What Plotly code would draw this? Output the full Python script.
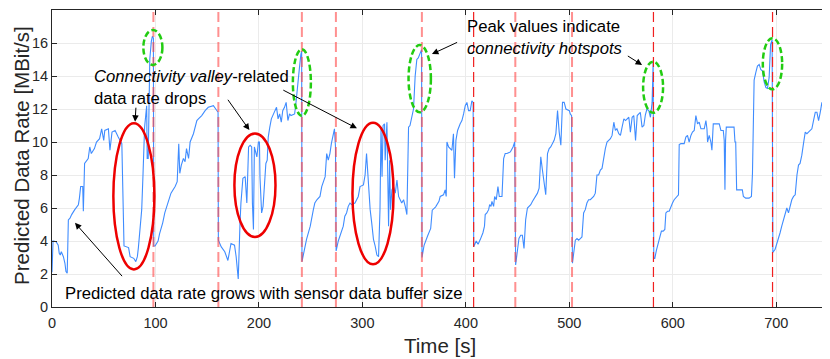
import plotly.graph_objects as go

# ---- data ----
time_s = [
    0, 1, 4, 6, 7, 8, 9, 11, 12.5, 13.5, 14.7, 15.8, 17.4, 19, 22, 24, 25.5, 26.5, 27.7, 29.7,
    30.3, 31.5, 35, 36.5, 38, 41, 43, 46, 48, 50, 51, 54.5, 56, 58, 61, 64, 67.5, 69.6, 74, 75.5,
    79, 81, 82.5, 83.5, 85, 86.7, 88, 89.5, 91.5, 92, 93, 93.5, 94.5, 96, 97, 98, 98.3,
    99.6, 101, 102.5, 104, 107, 109, 112, 115, 119, 121, 122.5, 123.5, 125, 127, 128.6, 130, 132,
    133.5, 136.7, 138, 140, 141.5, 144.7, 148, 151, 156, 159, 160.5,
    160.8, 163.6, 167, 170, 173, 176.4, 178, 180, 181.7, 182.6, 184.5, 186.7, 188.3, 190, 191.5,
    193, 193.7, 194.7, 195.6, 198, 199.5, 200.5, 201, 202.6, 204, 205.7, 206.7, 208, 209, 210.5,
    212, 215.5, 217, 218.5, 220, 221.6, 223, 224.7, 226.3, 228, 229.6, 231, 234.5, 236, 237.6,
    239, 240.5, 241.3,
    241.6, 244, 246, 249.6, 251, 252.6, 254, 256, 259, 260.7, 264, 265.5, 267, 268.6, 270, 271.8,
    273, 274,
    274.6, 276.7, 278.3, 280, 281.5, 283, 284.7, 286.3, 288, 289.6, 292.8, 296, 297.7, 301, 302.6,
    304, 305, 305.9, 307.5, 309, 310.7, 312.3, 314, 315.6, 316.5, 317, 318, 319, 320, 321.4, 322,
    323.7, 325.3, 326.3, 327.2, 328.5, 330, 331.8, 333.4, 335, 338, 339.8, 341.4, 343, 344, 344.6,
    346, 347.8, 349.4, 351, 352.6, 354, 355.7, 357.2,
    357.6, 359.6, 363, 366, 367.5, 370.8, 374, 375.2, 378.4, 380, 381, 381.7, 383.3, 386.5, 388,
    389, 390.4, 392, 394.5, 396.2, 397.8, 399.4, 401, 402.6, 404.2, 405.8, 407,
    407.6, 410, 411.8, 414, 416.5, 418, 418.7, 420.3, 422, 423, 424.3, 425.2, 426.8, 427.8, 429.4,
    431, 432.3, 434.9, 436.5, 438, 439.7, 443, 445.6, 447.2,
    448.1, 449.7, 451.3, 453, 454.6, 456.2, 457.8, 459.5, 462.7, 464.3, 467.5, 469.2, 470.8, 472.4,
    474, 475.6, 477.2, 478.9, 480.5, 482, 483.7, 485.3, 487, 488.6, 490.2, 491.8, 493.4, 495,
    496.7, 500, 500.9, 502.2,
    503, 504.2, 505.8, 507.4, 509, 510.6, 512.2, 513.8, 515.4, 517, 518.6, 520.3, 523.5, 525.1,
    526.7, 528.3, 530, 531.6, 533.2, 534.8, 536.4, 538, 539.7, 541.3, 543, 544.5, 546, 547.8,
    549.4, 551, 552.7, 554.3, 557.5, 559, 560.7, 562.3, 563.3, 564, 565.6, 568.6, 570.3, 572,
    573.5, 575, 576.8, 578.4, 580, 581,
    581.6, 582.6, 584.2, 585.8, 587.4, 589, 590.7, 592.3, 593.3, 594.9, 596.5, 598.1, 599.7, 601.3,
    602.9, 604.6, 605.5, 606.2, 607.8, 611, 612.6, 614.2, 615.8, 617.5, 619, 620.7, 622.3, 623.3,
    623.9, 625.5, 627.2, 628.8, 630.4, 632, 633, 633.6, 635.2, 636.8, 637.8, 639.1, 641.6, 644.9,
    646.5, 648.8, 649.7, 650.4, 651, 651.7, 654.3, 657.5, 659.2, 660.1, 660.8, 661.7, 664, 667.2,
    668.2, 670.5, 673.7, 676, 677, 678.6, 680.2, 681.8, 683.5, 685, 686.7, 688.3, 690, 691.5,
    693.1, 694.5, 696,
    696.7, 698.9, 700.5, 702.1, 703.7, 705.3, 707, 708.6, 710.2, 711.8, 713.4, 715, 716.7, 718.3,
    720, 721.5, 723, 724.7, 726.3, 728, 729.6, 731.2, 732.8, 734.4, 736, 737.7, 739.3, 740.9,
    742.5, 744.1, 745.7, 746.7,
]
data_rate = [
    2.1, 4.0, 3.95, 3.75, 3.25, 3.15, 3.35, 3.05, 2.65, 2.15, 2.05, 5.28, 5.38, 5.6, 5.9, 6.1, 6.2, 6.6, 7.3, 7.3,
    5.8, 8.7, 9.0, 9.7, 9.3, 9.6, 10.0, 10.2, 10.8, 10.1, 10.7, 10.8, 9.5, 10.6, 10.7, 10.3, 9.9, 3.7, 3.6, 3.05,
    2.95, 2.75, 3.05, 3.6, 4.7, 5.9, 8.1, 10.9, 12.2, 9.0, 9.0, 12.7, 15.0, 16.1, 16.4, 16.3, 3.7,
    3.7, 3.85, 4.0, 4.45, 5.1, 5.7, 6.3, 6.9, 7.3, 7.6, 9.9, 8.1, 8.6, 9.0, 8.8, 9.6, 9.0,
    10.0, 10.5, 10.8, 11.3, 11.4, 11.6, 11.9, 12.1, 12.2, 11.9, 11.8,
    4.05, 3.64, 3.35, 2.82, 3.85, 3.75, 3.04, 1.7, 5.06, 6.3, 7.8, 7.9, 6.3, 9.7, 9.8,
    9.7, 6.3, 4.7, 9.7, 9.1, 10.0, 10.0, 7.9, 5.7, 6.1, 7.7, 8.7, 8.9, 10.3, 10.9,
    11.4, 11.9, 12.1, 11.4, 11.7, 11.2, 11.9, 12.1, 12.4, 11.3, 11.7, 11.6, 11.7, 12.5, 13.8,
    14.4, 15.3, 15.5,
    2.75, 3.5, 4.1, 4.9, 5.5, 5.9, 6.3, 6.5, 6.7, 7.3, 7.9, 9.3, 8.9, 9.3, 9.9, 10.6,
    10.8, 9.7,
    3.4, 4.0, 4.3, 4.7, 4.9, 5.5, 5.7, 6.1, 6.3, 6.2, 6.3, 6.7, 7.3, 7.4, 8.0,
    9.3, 8.3, 6.9, 5.9, 5.1, 4.1, 3.7, 3.15, 3.05, 4.9, 5.9, 10.9, 7.9, 11.0, 11.1, 8.9,
    11.2, 4.9, 8.9, 5.9, 7.1, 7.3, 6.9, 7.7, 6.7, 6.3, 6.5, 6.1, 5.6, 8.9, 10.9,
    11.0, 11.5, 12.0, 14.0, 15.0, 15.1, 15.4, 15.6,
    3.0, 3.74, 4.3, 4.76, 5.87, 6.07, 6.4, 6.7, 6.8, 7.1, 6.7, 10.0, 9.7, 9.5, 10.5,
    7.8, 10.1, 10.7, 11.1, 11.3, 11.7, 12.2, 12.4, 11.9, 11.9, 12.5, 12.4,
    3.65, 4.0, 3.8, 4.1, 4.5, 4.9, 5.6, 5.7, 5.9, 6.2, 6.1, 6.4, 6.1, 6.7, 6.5,
    7.3, 6.7, 6.7, 9.0, 9.3, 9.3, 9.4, 9.7, 10.0,
    2.55, 3.35, 4.15, 4.35, 4.35, 3.55, 5.3, 6.0, 6.2, 6.4, 6.7, 6.9, 7.2, 9.1,
    8.3, 7.5, 6.8, 9.3, 9.6, 9.7, 9.9, 10.1, 10.5, 11.9, 10.6, 9.8, 12.4, 12.4,
    12.0, 11.9, 11.7, 11.6,
    2.65, 3.45, 4.05, 4.15, 4.05, 4.15, 4.25, 5.7, 5.9, 6.3, 6.5, 6.5, 6.7, 6.9,
    8.0, 8.0, 8.3, 8.4, 9.1, 9.6, 10.0, 10.1, 10.2, 10.4, 11.2, 10.7, 10.8, 10.5,
    10.4, 10.9, 11.4, 11.3, 11.5, 10.6, 11.5, 11.6, 10.2, 10.1, 11.6, 11.8, 10.9, 11.0,
    11.65, 12.0, 11.9, 11.5, 12.4, 14.8,
    2.95, 2.95, 3.45, 3.85, 4.3, 4.6, 4.6, 4.7, 5.7, 5.8, 5.8, 6.1, 6.3, 6.5,
    6.6, 6.7, 6.8, 9.85, 9.9, 9.9, 10.3, 10.4, 10.0, 10.4, 10.6, 10.7, 11.6, 11.3,
    11.1, 11.2, 10.8, 10.8, 10.8, 11.3, 10.8, 10.0, 10.4, 10.0, 9.5, 11.1, 11.1, 11.1,
    10.7, 10.7, 10.1, 7.1, 10.1, 10.9, 10.9, 10.9, 10.9, 10.0, 10.0, 7.1, 7.1, 7.1,
    6.7, 6.6, 6.6, 6.7, 8.1, 13.75, 14.2, 14.6, 14.7, 14.4, 14.3, 13.65, 13.3, 13.25,
    13.9, 15.9, 16.2,
    3.3, 3.5, 3.8, 4.2, 4.5, 4.9, 5.3, 5.7, 6.0, 5.7, 6.1, 6.5, 6.7, 6.8,
    8.0, 8.6, 8.7, 9.2, 9.9, 10.6, 10.5, 10.6, 10.7, 10.8, 11.3, 11.8, 11.8, 11.3,
    11.8, 12.4, 11.9, 12.0,
]

# event markers (vertical dashed lines)
buffer_reset_times = [98, 160.8, 241.5, 274.4, 357.5, 447.8, 502.6]
hotspot_reset_times = [407.5, 581.3, 696.4]

x_ticks = [0, 100, 200, 300, 400, 500, 600, 700]
y_ticks = [0, 2, 4, 6, 8, 10, 12, 14, 16, 18]

FONT = "Liberation Sans, Arial, sans-serif"
AX = "#262626"
ANN = 16.7

fig = go.Figure()
fig.add_trace(go.Scatter(
    x=time_s, y=data_rate, mode="lines",
    line=dict(color="#3f8cff", width=1.1),
    showlegend=False, hoverinfo="skip",
))

shapes = []
for t in buffer_reset_times:
    shapes.append(dict(type="line", xref="x", yref="y", x0=t, x1=t, y0=0, y1=18,
                       line=dict(color="rgba(255,70,70,0.6)", width=2, dash="10px,5px")))
for t in hotspot_reset_times:
    shapes.append(dict(type="line", xref="x", yref="y", x0=t, x1=t, y0=0, y1=18,
                       line=dict(color="#f02020", width=1.2, dash="10px,5px")))

red_ellipses = [(59.3, 99.0, 2.28, 11.13), (176.3, 216.0, 4.25, 10.52), (290.4, 330.1, 2.59, 11.17)]
for x0, x1, y0, y1 in red_ellipses:
    shapes.append(dict(type="circle", xref="x", yref="y", x0=x0, x1=x1, y0=y0, y1=y1,
                       line=dict(color="#ee0000", width=2.5)))
green_ellipses = [(88.3, 106.7, 14.67, 16.79), (232.8, 250.2, 11.59, 15.62),
                  (344.6, 366.2, 11.8, 15.88), (571.3, 590.6, 11.77, 14.87),
                  (687.0, 705.7, 13.19, 16.29)]
for x0, x1, y0, y1 in green_ellipses:
    shapes.append(dict(type="circle", xref="x", yref="y", x0=x0, x1=x1, y0=y0, y1=y1,
                       line=dict(color="#22cc11", width=2.5, dash="6px,3px")))

annotations = [
    dict(x=38.7, y=13.31, xref="x", yref="y", xanchor="left", yanchor="middle", align="left",
         text="<i>Connectivity valley</i>-related<br>data rate drops", showarrow=False,
         font=dict(family=FONT, size=ANN, color="black")),
    dict(x=399.4, y=16.33, xref="x", yref="y", xanchor="left", yanchor="middle", align="left",
         text="Peak values indicate<br><i>connectivity hotspots</i>", showarrow=False,
         font=dict(family=FONT, size=ANN, color="black")),
    dict(x=10.9, y=0.81, xref="x", yref="y", xanchor="left", yanchor="middle", align="left",
         text="Predicted data rate grows with sensor data buffer size", showarrow=False,
         font=dict(family=FONT, size=ANN, color="black")),
    # axis titles
    dict(x=-0.0387, y=0.512, xref="paper", yref="paper", xanchor="center", yanchor="middle",
         text="Predicted Data Rate [MBit/s]", textangle=-90, showarrow=False,
         font=dict(family=FONT, size=20.5, color=AX)),
    dict(x=0.5, y=-0.128, xref="paper", yref="paper", xanchor="center", yanchor="middle",
         text="Time [s]", showarrow=False,
         font=dict(family=FONT, size=20.5, color=AX)),
]
arrows = [
    (81.2, 12.17, 80.3, 11.23),
    (169.0, 12.65, 190.8, 10.72),
    (222.1, 13.19, 294.7, 10.83),
    (393.0, 16.08, 367.2, 15.33),
    (555.1, 15.27, 570.3, 14.67),
    (69.0, 1.78, 22.2, 5.1),
]
for ax_, ay_, x_, y_ in arrows:
    annotations.append(dict(x=x_, y=y_, ax=ax_, ay=ay_, xref="x", yref="y", axref="x", ayref="y",
                            text="", showarrow=True, arrowhead=2, arrowsize=1.3, arrowwidth=1,
                            arrowcolor="black"))

axis_common = dict(
    showgrid=True, gridcolor="#ebebeb", gridwidth=1, zeroline=False,
    ticks="inside", ticklen=5, tickwidth=1, tickcolor=AX,
    showline=True, linecolor=AX, linewidth=1, mirror="ticks",
    tickfont=dict(family=FONT, size=14.5, color=AX), automargin=False,
)
fig.update_xaxes(range=[0, 750], tickvals=x_ticks, ticktext=[str(v) for v in x_ticks],
                 ticklabelstandoff=3, **axis_common)
fig.update_yaxes(range=[0, 18], tickvals=y_ticks, ticktext=[str(v) for v in y_ticks],
                 **axis_common)

# the page body adds an 8px offset, so the figure is 8px smaller and margins shifted
fig.update_layout(
    width=822, height=351,
    margin=dict(l=44, r=2, t=2, b=52),
    paper_bgcolor="white", plot_bgcolor="white",
    shapes=shapes, annotations=annotations,
    showlegend=False,
)
fig.write_html("out.html")
